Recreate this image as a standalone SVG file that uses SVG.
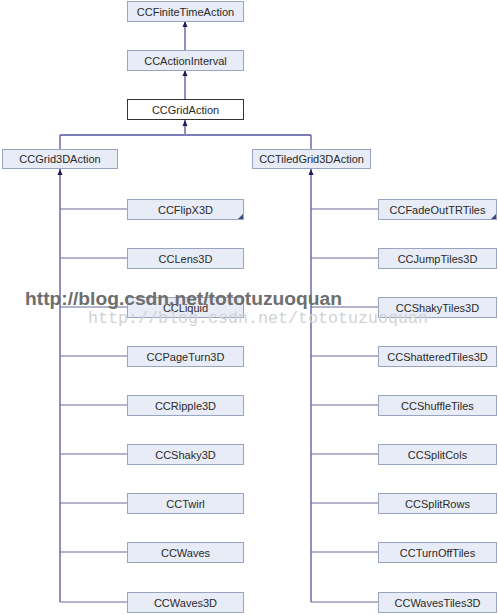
<svg xmlns="http://www.w3.org/2000/svg" width="498" height="615" viewBox="0 0 498 615">
<defs>
<style>
.box{fill:#e8ecf6;stroke:#98a4c0;stroke-width:1}
.root{fill:#ffffff;stroke:#333333;stroke-width:1}
.t{font-family:"Liberation Sans",Arial,sans-serif;font-size:11px;fill:#2a2a2a;text-anchor:middle}
.ln{stroke:#5454a0;stroke-width:1.3;fill:none}
.hl{stroke:#6a6a9c;stroke-width:1.2;fill:none}
.ah{fill:#1c1c5c}
.cn{fill:#3a4a80}
</style>
</defs>
<rect width="498" height="615" fill="#ffffff"/>
<g id="connectors">
<path class="ln" d="M185,99 V21 M185,50 V70 M185,134 V120 M60,135 H311 M60,135 V169 M311,135 V169"/>
<path class="ln" d="M60,169 V602 M311,169 V602"/>
<path class="hl" d="M60,209 H127 M60,258 H127 M60,307 H127 M60,356 H127 M60,405 H127 M60,454 H127 M60,503 H127 M60,552 H127 M60,602 H127"/>
<path class="hl" d="M311,209 H378 M311,258 H378 M311,307 H378 M311,356 H378 M311,405 H378 M311,454 H378 M311,503 H378 M311,552 H378 M311,602 H378"/>
<path class="ah" d="M185,21 l-2.5,6 h5 z M185,70 l-2.5,6 h5 z M185,120 l-2.5,6 h5 z M60,169 l-2.5,6 h5 z M311,169 l-2.5,6 h5 z"/>
</g>
<g id="CCFiniteTimeAction"><rect class="box" x="127.5" y="1.5" width="116" height="20"/><text class="t" x="185.5" y="15.5">CCFiniteTimeAction</text></g>
<g id="CCActionInterval"><rect class="box" x="127.5" y="50.5" width="116" height="20"/><text class="t" x="185.5" y="64.5">CCActionInterval</text></g>
<g id="CCGridAction"><rect class="root" x="127.5" y="99.5" width="116" height="20"/><text class="t" x="185.5" y="113.5">CCGridAction</text></g>
<g id="CCGrid3DAction"><rect class="box" x="2.5" y="149.5" width="115" height="19"/><text class="t" x="60" y="163">CCGrid3DAction</text></g>
<g id="CCTiledGrid3DAction"><rect class="box" x="252.5" y="149.5" width="118" height="19"/><text class="t" x="311.5" y="163">CCTiledGrid3DAction</text></g>
<g id="CCFlipX3D"><rect class="box" x="127.5" y="199.5" width="116" height="20"/><path class="cn" d="M243,214 v5 h-5 z"/><text class="t" x="185.5" y="213.5">CCFlipX3D</text></g>
<g id="CCLens3D"><rect class="box" x="127.5" y="248.5" width="116" height="20"/><text class="t" x="185.5" y="262.5">CCLens3D</text></g>
<g id="CCLiquid"><rect class="box" x="127.5" y="297.5" width="116" height="20"/><text class="t" x="185.5" y="311.5">CCLiquid</text></g>
<g id="CCPageTurn3D"><rect class="box" x="127.5" y="346.5" width="116" height="20"/><text class="t" x="185.5" y="360.5">CCPageTurn3D</text></g>
<g id="CCRipple3D"><rect class="box" x="127.5" y="395.5" width="116" height="20"/><text class="t" x="185.5" y="409.5">CCRipple3D</text></g>
<g id="CCShaky3D"><rect class="box" x="127.5" y="444.5" width="116" height="20"/><text class="t" x="185.5" y="458.5">CCShaky3D</text></g>
<g id="CCTwirl"><rect class="box" x="127.5" y="493.5" width="116" height="20"/><text class="t" x="185.5" y="507.5">CCTwirl</text></g>
<g id="CCWaves"><rect class="box" x="127.5" y="542.5" width="116" height="20"/><text class="t" x="185.5" y="556.5">CCWaves</text></g>
<g id="CCWaves3D"><rect class="box" x="127.5" y="592.5" width="116" height="20"/><text class="t" x="185.5" y="606.5">CCWaves3D</text></g>
<g id="CCFadeOutTRTiles"><rect class="box" x="378.5" y="199.5" width="118" height="20"/><path class="cn" d="M496,214 v5 h-5 z"/><text class="t" x="437.5" y="213.5">CCFadeOutTRTiles</text></g>
<g id="CCJumpTiles3D"><rect class="box" x="378.5" y="248.5" width="118" height="20"/><text class="t" x="437.5" y="262.5">CCJumpTiles3D</text></g>
<g id="CCShakyTiles3D"><rect class="box" x="378.5" y="297.5" width="118" height="20"/><text class="t" x="437.5" y="311.5">CCShakyTiles3D</text></g>
<g id="CCShatteredTiles3D"><rect class="box" x="378.5" y="346.5" width="118" height="20"/><text class="t" x="437.5" y="360.5">CCShatteredTiles3D</text></g>
<g id="CCShuffleTiles"><rect class="box" x="378.5" y="395.5" width="118" height="20"/><text class="t" x="437.5" y="409.5">CCShuffleTiles</text></g>
<g id="CCSplitCols"><rect class="box" x="378.5" y="444.5" width="118" height="20"/><text class="t" x="437.5" y="458.5">CCSplitCols</text></g>
<g id="CCSplitRows"><rect class="box" x="378.5" y="493.5" width="118" height="20"/><text class="t" x="437.5" y="507.5">CCSplitRows</text></g>
<g id="CCTurnOffTiles"><rect class="box" x="378.5" y="542.5" width="118" height="20"/><text class="t" x="437.5" y="556.5">CCTurnOffTiles</text></g>
<g id="CCWavesTiles3D"><rect class="box" x="378.5" y="592.5" width="118" height="20"/><text class="t" x="437.5" y="606.5">CCWavesTiles3D</text></g>
<g id="watermark">
<text x="88" y="323" font-family="'Liberation Mono','DejaVu Sans Mono',monospace" font-size="17" fill="#d2d2d2" textLength="340" lengthAdjust="spacingAndGlyphs">http://blog.csdn.net/tototuzuoquan</text>
<text x="25" y="305" font-family="'Liberation Sans',Arial,sans-serif" font-size="18" font-weight="bold" fill="#6e6e6e" textLength="317" lengthAdjust="spacingAndGlyphs">http://blog.csdn.net/tototuzuoquan</text>
</g>
</svg>
